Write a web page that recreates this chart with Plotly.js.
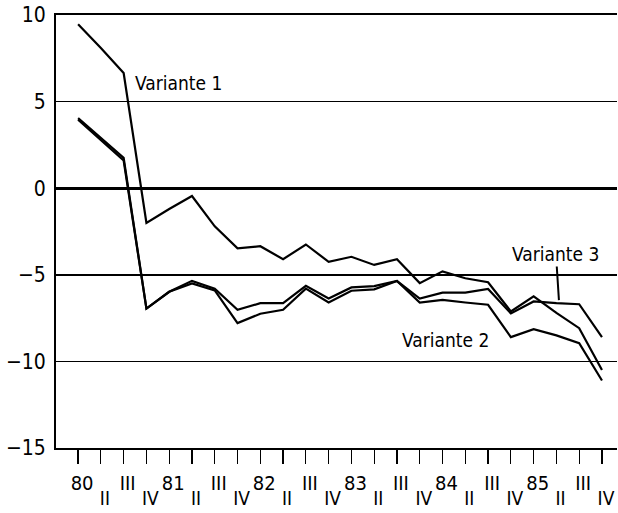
<!DOCTYPE html>
<html>
<head>
<meta charset="utf-8">
<script src="https://cdn.plot.ly/plotly-3.0.1.min.js"></script>
<style>html,body{margin:0;padding:0;background:#fff;}#chart{width:618px;height:513px;}</style>
</head>
<body>
<div id="chart"></div>
<script>
// Quarter index 0..23 = 1980 I .. 1985 IV
var quarters = [0,1,2,3,4,5,6,7,8,9,10,11,12,13,14,15,16,17,18,19,20,21,22,23];
var upperLabels = ["80","","III","","81","","III","","82","","III","","83","","III","","84","","III","","85","","III",""];
var lowerLabels = ["","II","","IV","","II","","IV","","II","","IV","","II","","IV","","II","","IV","","II","","IV"];
var variante1 = [9.47, 8.1, 6.65, -2.0, -1.2, -0.45, -2.2, -3.47, -3.35, -4.1, -3.25, -4.25, -3.96, -4.43, -4.1, -5.48, -4.8, -5.2, -5.43, -7.12, -6.25, -7.2, -8.08, -10.5];
var variante3 = [4.05, 2.9, 1.75, -6.95, -5.98, -5.35, -5.8, -7.02, -6.64, -6.64, -5.64, -6.37, -5.73, -5.65, -5.36, -6.37, -6.03, -6.03, -5.82, -7.23, -6.54, -6.64, -6.7, -8.6];
var variante2 = [3.95, 2.8, 1.6, -6.95, -5.98, -5.5, -5.9, -7.79, -7.25, -7.02, -5.8, -6.6, -5.92, -5.84, -5.36, -6.6, -6.45, -6.6, -6.73, -8.6, -8.14, -8.5, -8.95, -11.1];
var yTicks = [-15,-10,-5,0,5,10];

var FONT = '"DejaVu Sans Condensed", "Liberation Sans Narrow", "Liberation Sans", sans-serif';
var lineStyle = {color:'#000', width:2.2};

var traces = [
  {x:quarters, y:variante1, mode:'lines', line:lineStyle, xaxis:'x', yaxis:'y', name:'Variante 1'},
  {x:quarters, y:variante3, mode:'lines', line:lineStyle, xaxis:'x', yaxis:'y', name:'Variante 3'},
  {x:quarters, y:variante2, mode:'lines', line:lineStyle, xaxis:'x2', yaxis:'y', name:'Variante 2'}
];

var layout = {
  width:618, height:513,
  margin:{l:56, r:1, t:15, b:65},
  paper_bgcolor:'#fff', plot_bgcolor:'#fff',
  showlegend:false,
  font:{family:FONT, color:'#000', size:20},
  xaxis:{
    range:[-0.97, 23.66], tickmode:'array', tickvals:quarters, ticktext:upperLabels,
    ticks:'outside', ticklen:14, tickwidth:1.2, tickcolor:'#000',
    showgrid:false, zeroline:false, showline:true, linecolor:'#000', linewidth:2, mirror:true,
    tickfont:{family:FONT, size:20, color:'#000'}, ticklabelshift:4, ticklabelstandoff:2
  },
  xaxis2:{
    overlaying:'x', matches:'x', side:'bottom', range:[-0.97, 23.66],
    tickmode:'array', tickvals:quarters, ticktext:lowerLabels,
    ticks:'', showgrid:false, zeroline:false, showline:false,
    tickfont:{family:FONT, size:19, color:'#000'}, ticklabelshift:4, ticklabelstandoff:37
  },
  yaxis:{
    range:[-15,10], tickmode:'array', tickvals:yTicks, ticks:'', 
    showgrid:true, gridcolor:'#000', gridwidth:1.5,
    zeroline:true, zerolinecolor:'#000', zerolinewidth:3,
    showline:true, linecolor:'#000', linewidth:2,
    tickfont:{family:FONT, size:21, color:'#000'}, ticklabelstandoff:4
  },
  annotations:[
    {x:4.39, y:6.1, xref:'x', yref:'y', text:'Variante 1', showarrow:false, font:{family:FONT, size:19, color:'#000'}},
    {x:16.15, y:-8.77, xref:'x', yref:'y', text:'Variante 2', showarrow:false, font:{family:FONT, size:19, color:'#000'}},
    {x:21.11, y:-6.46, xref:'x', yref:'y', ax:20.98, ay:-3.8, axref:'x', ayref:'y', text:'Variante 3',
     showarrow:true, arrowhead:0, arrowwidth:2, arrowcolor:'#000', standoff:0, startstandoff:0,
     font:{family:FONT, size:19, color:'#000'}}
  ]
};

Plotly.newPlot('chart', traces, layout, {staticPlot:true, displayModeBar:false});
</script>
</body>
</html>
